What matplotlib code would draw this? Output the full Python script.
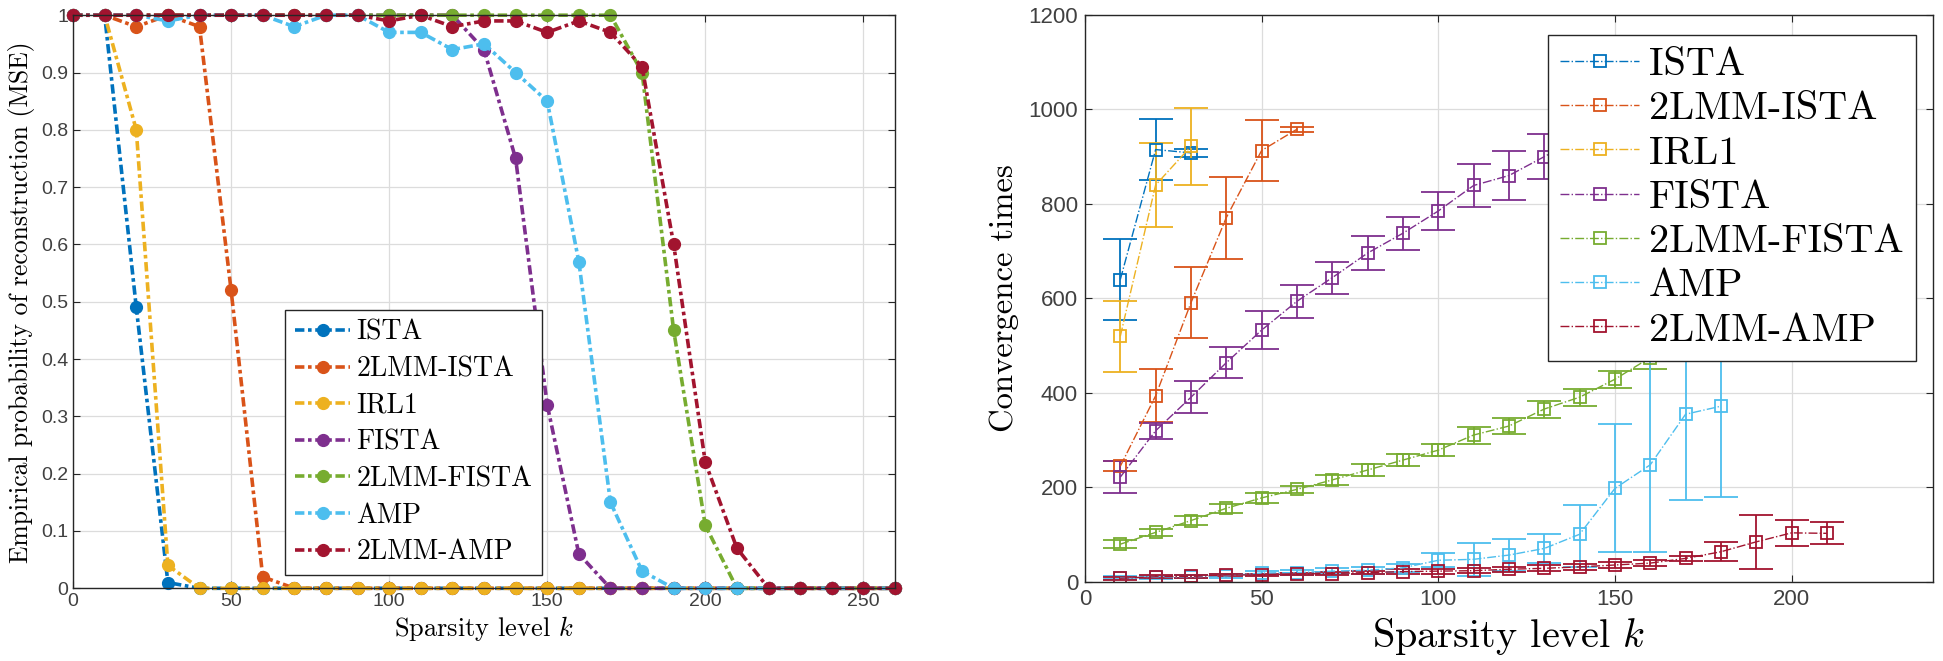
import matplotlib

matplotlib.use("Agg")
import matplotlib.pyplot as plt


# left panel: success probability vs sparsity level
K_LEFT = [0, 10, 20, 30, 40, 50, 60, 70, 80, 90, 100, 110, 120, 130,
          140, 150, 160, 170, 180, 190, 200, 210, 220, 230, 240, 250, 260]
P_ISTA = [1, 1, 0.49, 0.01] + [0] * 23
P_2LMM_ISTA = [1, 1, 0.98, 1, 0.98, 0.52, 0.02] + [0] * 20
P_IRL1 = [1, 1, 0.80, 0.04] + [0] * 23
P_FISTA = [1] * 13 + [0.94, 0.75, 0.32, 0.06] + [0] * 10
P_2LMM_FISTA = [1] * 18 + [0.90, 0.45, 0.11] + [0] * 6
P_AMP = [1, 1, 1, 0.99, 1, 1, 1, 0.98, 1, 1, 0.97, 0.97, 0.94, 0.95,
         0.90, 0.85, 0.57, 0.15, 0.03] + [0] * 8
P_2LMM_AMP = [1] * 10 + [0.99, 1, 0.98, 0.99, 0.99, 0.97, 0.99, 0.97,
                         0.91, 0.60, 0.22, 0.07] + [0] * 5

# right panel: convergence times (mean and error)
K_ISTA = [10, 20, 30]
T_ISTA = [640, 915, 908]
E_ISTA = [85, 65, 8]

K_2LMM_ISTA = [10, 20, 30, 40, 50, 60]
T_2LMM_ISTA = [245, 394, 591, 771, 913, 958]
E_2LMM_ISTA = [10, 56, 75, 87, 65, 5]

K_IRL1 = [10, 20, 30]
T_IRL1 = [520, 840, 922]
E_IRL1 = [75, 88, 82]

K_FISTA = [10, 20, 30, 40, 50, 60, 70, 80, 90, 100, 110, 120, 130, 140, 150, 160]
T_FISTA = [222, 320, 391, 464, 533, 594, 644, 696, 738, 785, 839, 860, 900,
           940, 975, 1000]
E_FISTA = [33, 17, 34, 33, 41, 35, 34, 36, 35, 40, 45, 52, 47, 50, 50, 50]

K_2LMM_FISTA = [10, 20, 30, 40, 50, 60, 70, 80, 90, 100, 110, 120, 130, 140,
                150, 160, 170, 180, 190, 200]
T_2LMM_FISTA = [80, 105, 130, 156, 178, 196, 216, 237, 258, 279, 311, 330,
                366, 391, 429, 475, 520, 570, 620, 680]
E_2LMM_FISTA = [8, 8, 10, 10, 10, 8, 10, 12, 12, 12, 18, 17, 18, 18, 18, 25,
                25, 25, 25, 25]

K_AMP = [10, 20, 30, 40, 50, 60, 70, 80, 90, 100, 110, 120, 130, 140, 150,
         160, 170, 180]
T_AMP = [9, 10, 11, 13, 19, 20, 23, 25, 30, 46, 48, 57, 71, 101, 198, 248,
         355, 372]
E_AMP_LO = [3, 3, 3, 4, 5, 5, 6, 7, 8, 15, 35, 33, 30, 69, 134, 184, 181, 192]
E_AMP_HI = [3, 3, 3, 4, 5, 5, 6, 7, 8, 15, 35, 33, 30, 62, 136, 300, 181, 192]

K_2LMM_AMP = [10, 20, 30, 40, 50, 60, 70, 80, 90, 100, 110, 120, 130, 140,
              150, 160, 170, 180, 190, 200, 210]
T_2LMM_AMP = [8, 11, 12, 15, 15, 17, 18, 20, 22, 23, 24, 27, 29, 32, 36, 40,
              50, 64, 85, 104, 103]
E_2LMM_AMP = [3, 3, 3, 3, 3, 3, 4, 4, 5, 5, 5, 5, 6, 6, 6, 6, 6, 20, 57, 28, 23]

LABELS = ["ISTA", "2LMM-ISTA", "IRL1", "FISTA", "2LMM-FISTA", "AMP", "2LMM-AMP"]
COLORS = ["#0072BD", "#D95319", "#EDB120", "#7E2F8E", "#77AC30", "#4DBEEE",
          "#A2142F"]

SERIF = "cmr10"
TICK_FONT = "Liberation Sans"
AXIS_COLOR = "#262626"

plt.rcParams["mathtext.fontset"] = "cm"
plt.rcParams["axes.unicode_minus"] = False


def style_axes(ax, tick_size, pad=3.5):
    ax.grid(True, color="#dcdcdc", linewidth=0.9)
    ax.set_axisbelow(True)
    ax.tick_params(direction="in", top=True, right=True, length=5,
                   width=0.8, colors=AXIS_COLOR, labelsize=tick_size,
                   labelcolor="#404040", pad=pad)
    for label in ax.get_xticklabels() + ax.get_yticklabels():
        label.set_fontfamily(TICK_FONT)
    for spine in ax.spines.values():
        spine.set_color(AXIS_COLOR)
        spine.set_linewidth(1.0)


fig = plt.figure(figsize=(19.43, 6.61), dpi=100)

# ---- left panel ----
ax_left = fig.add_axes([0.0376, 0.110, 0.423, 0.867])
left_series = [P_ISTA, P_2LMM_ISTA, P_IRL1, P_FISTA, P_2LMM_FISTA, P_AMP,
               P_2LMM_AMP]
for values, label, color in zip(left_series, LABELS, COLORS):
    ax_left.plot(K_LEFT, values, linestyle=(0, (2.6, 1.0, 1.0, 1.0)),
                 linewidth=2.6, color=color, marker="o", markersize=8.5,
                 markeredgecolor=color, label=label, clip_on=False)

ax_left.set_xlim(0, 260)
ax_left.set_ylim(0, 1)
ax_left.set_xticks([0, 50, 100, 150, 200, 250])
ax_left.set_yticks([i / 10 for i in range(11)])
ax_left.set_yticklabels(["0", "0.1", "0.2", "0.3", "0.4", "0.5", "0.6", "0.7",
                         "0.8", "0.9", "1"])
style_axes(ax_left, 14)
ax_left.set_xlabel(r"Sparsity level $k$", fontfamily=SERIF, fontsize=19,
                   labelpad=3)
ax_left.set_ylabel("Empirical probability of reconstruction (MSE)",
                   fontfamily=SERIF, fontsize=18.5, labelpad=4)
leg_left = ax_left.legend(loc="lower left", bbox_to_anchor=(0.258, 0.023),
                          borderaxespad=0, prop={"family": SERIF, "size": 20},
                          fancybox=False, framealpha=1, edgecolor=AXIS_COLOR,
                          handlelength=2.0, labelspacing=0.37,
                          borderpad=0.35, handletextpad=0.22)
leg_left.get_frame().set_linewidth(1.0)

# ---- right panel ----
ax_right = fig.add_axes([0.5584, 0.1195, 0.4364, 0.858])
right_series = [
    (K_ISTA, T_ISTA, E_ISTA),
    (K_2LMM_ISTA, T_2LMM_ISTA, E_2LMM_ISTA),
    (K_IRL1, T_IRL1, E_IRL1),
    (K_FISTA, T_FISTA, E_FISTA),
    (K_2LMM_FISTA, T_2LMM_FISTA, E_2LMM_FISTA),
    (K_AMP, T_AMP, [E_AMP_LO, E_AMP_HI]),
    (K_2LMM_AMP, T_2LMM_AMP, E_2LMM_AMP),
]
handles = []
for (k, t, err), label, color in zip(right_series, LABELS, COLORS):
    container = ax_right.errorbar(k, t, yerr=err, linestyle="-.",
                                  linewidth=1.0, color=color, marker="s",
                                  markersize=9, markerfacecolor="none",
                                  markeredgewidth=1.3, elinewidth=1.3,
                                  capsize=12, capthick=1.3, label=label)
    handles.append(container[0])

ax_right.set_xlim(0, 240)
ax_right.set_ylim(0, 1200)
ax_right.set_xticks([0, 50, 100, 150, 200])
ax_right.set_yticks([0, 200, 400, 600, 800, 1000, 1200])
style_axes(ax_right, 16, pad=5)
ax_right.set_xlabel(r"Sparsity level $k$", fontfamily=SERIF, fontsize=29,
                    labelpad=4)
ax_right.set_ylabel("Convergence times", fontfamily=SERIF, fontsize=23.5,
                    labelpad=7)
leg_right = ax_right.legend(handles=handles, labels=LABELS, loc="upper right",
                            bbox_to_anchor=(0.980, 0.965), borderaxespad=0,
                            prop={"family": SERIF, "size": 29},
                            fancybox=False, framealpha=1,
                            edgecolor=AXIS_COLOR, handlelength=1.95,
                            labelspacing=0.2, borderpad=0.3,
                            handletextpad=0.25)
leg_right.get_frame().set_linewidth(1.0)

fig.savefig("out.png", dpi=100)
